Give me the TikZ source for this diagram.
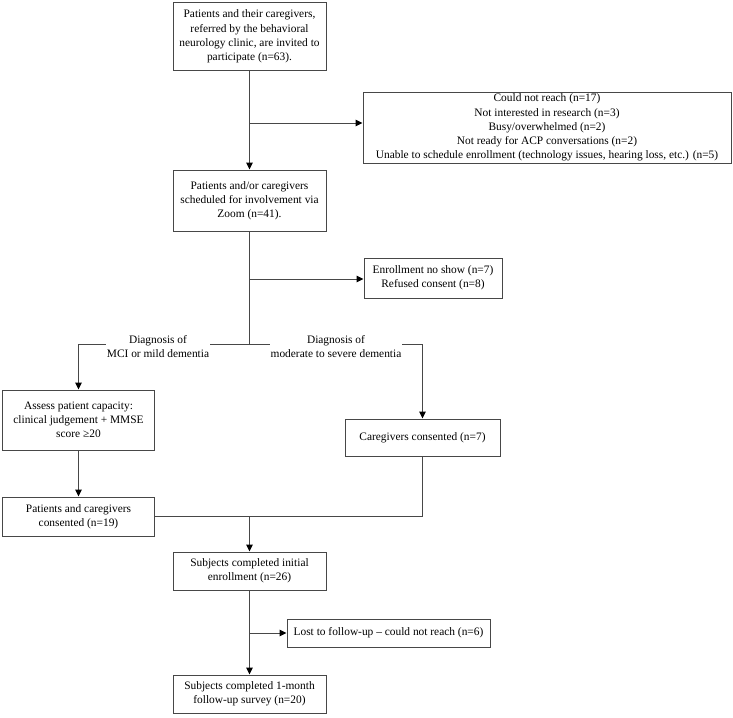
\documentclass[tikz,border=0pt]{standalone}
\usepackage{fontspec}
\setmainfont{Liberation Serif}
\usetikzlibrary{arrows.meta}
\begin{document}
\begin{tikzpicture}[x=1pt,y=-1pt,
  box/.style={draw=black!72, line width=1pt, fill=white, align=center, inner sep=0pt,
    font=\fontsize{11.4}{14.2}\selectfont, text=black},
  conn/.style={draw=black!72, line width=1pt},
  arr/.style={conn, -{Triangle[length=7pt,width=6.5pt,black]}},
  lbl/.style={fill=white, align=center, inner sep=1pt, font=\fontsize{11.4}{13.4}\selectfont, text=black}]
\useasboundingbox (0,0) rectangle (733,717);
% boxes
\node[box, minimum width=153pt, minimum height=67pt] (b1) at (249.5,36.5)
  {Patients and their caregivers,\\referred by the behavioral\\neurology clinic, are invited to\\participate (n=63).};
\node[box, minimum width=368pt, minimum height=71pt] (b2) at (547,127.5)
  {Could not reach (n=17)\\Not interested in research (n=3)\\Busy/overwhelmed (n=2)\\Not ready for ACP conversations (n=2)\\Unable to schedule enrollment (technology issues, hearing loss, etc.) (n=5)};
\node[box, minimum width=153pt, minimum height=61pt] (b3) at (249.5,200.5)
  {Patients and/or caregivers\\scheduled for involvement via\\Zoom (n=41).};
\node[box, minimum width=138pt, minimum height=40pt] (b4) at (433,278)
  {Enrollment no show (n=7)\\Refused consent (n=8)};
\node[box, minimum width=152pt, minimum height=60pt] (b5) at (78.5,420)
  {Assess patient capacity:\\clinical judgement + MMSE\\score ≥20};
\node[box, minimum width=152pt, minimum height=39pt] (b6) at (78.5,516.5)
  {Patients and caregivers\\consented (n=19)};
\node[box, minimum width=155pt, minimum height=37pt] (b7) at (422.5,437.5)
  {Caregivers consented (n=7)};
\node[box, minimum width=153pt, minimum height=38pt] (b8) at (249.5,571)
  {Subjects completed initial\\enrollment (n=26)};
\node[box, minimum width=203pt, minimum height=28pt] (b9) at (388.5,633)
  {Lost to follow-up -- could not reach (n=6)};
\node[box, minimum width=153pt, minimum height=38pt] (b10) at (249.5,694)
  {Subjects completed 1-month\\follow-up survey (n=20)};
% junction coordinates
\coordinate (j1) at (249.5,123);
\coordinate (j2) at (249.5,279);
\coordinate (s) at (249.5,344);
\coordinate (j3) at (249.5,633);
% connectors
\draw[arr] (b1.south) -- (b3.north);
\draw[arr] (j1) -- (j1 -| b2.west);
\draw[conn] (b3.south) -- (s);
\draw[arr] (j2) -- (j2 -| b4.west);
\draw[arr] (s) -| (b5.north);
\draw[arr] (s) -| (b7.north);
\draw[arr] (b5.south) -- (b6.north);
\draw[conn] (b6.east) -- (b6.east -| b7.south) -- (b7.south);
\draw[arr] (b6.east -| b8.north) -- (b8.north);
\draw[arr] (b8.south) -- (b10.north);
\draw[arr] (j3) -- (b9.west);
% labels
\node[lbl] (l1) at (158,346.5) {Diagnosis of\\MCI or mild dementia};
\node[lbl] (l2) at (336,346.5) {Diagnosis of\\moderate to severe dementia};
\end{tikzpicture}
\end{document}
